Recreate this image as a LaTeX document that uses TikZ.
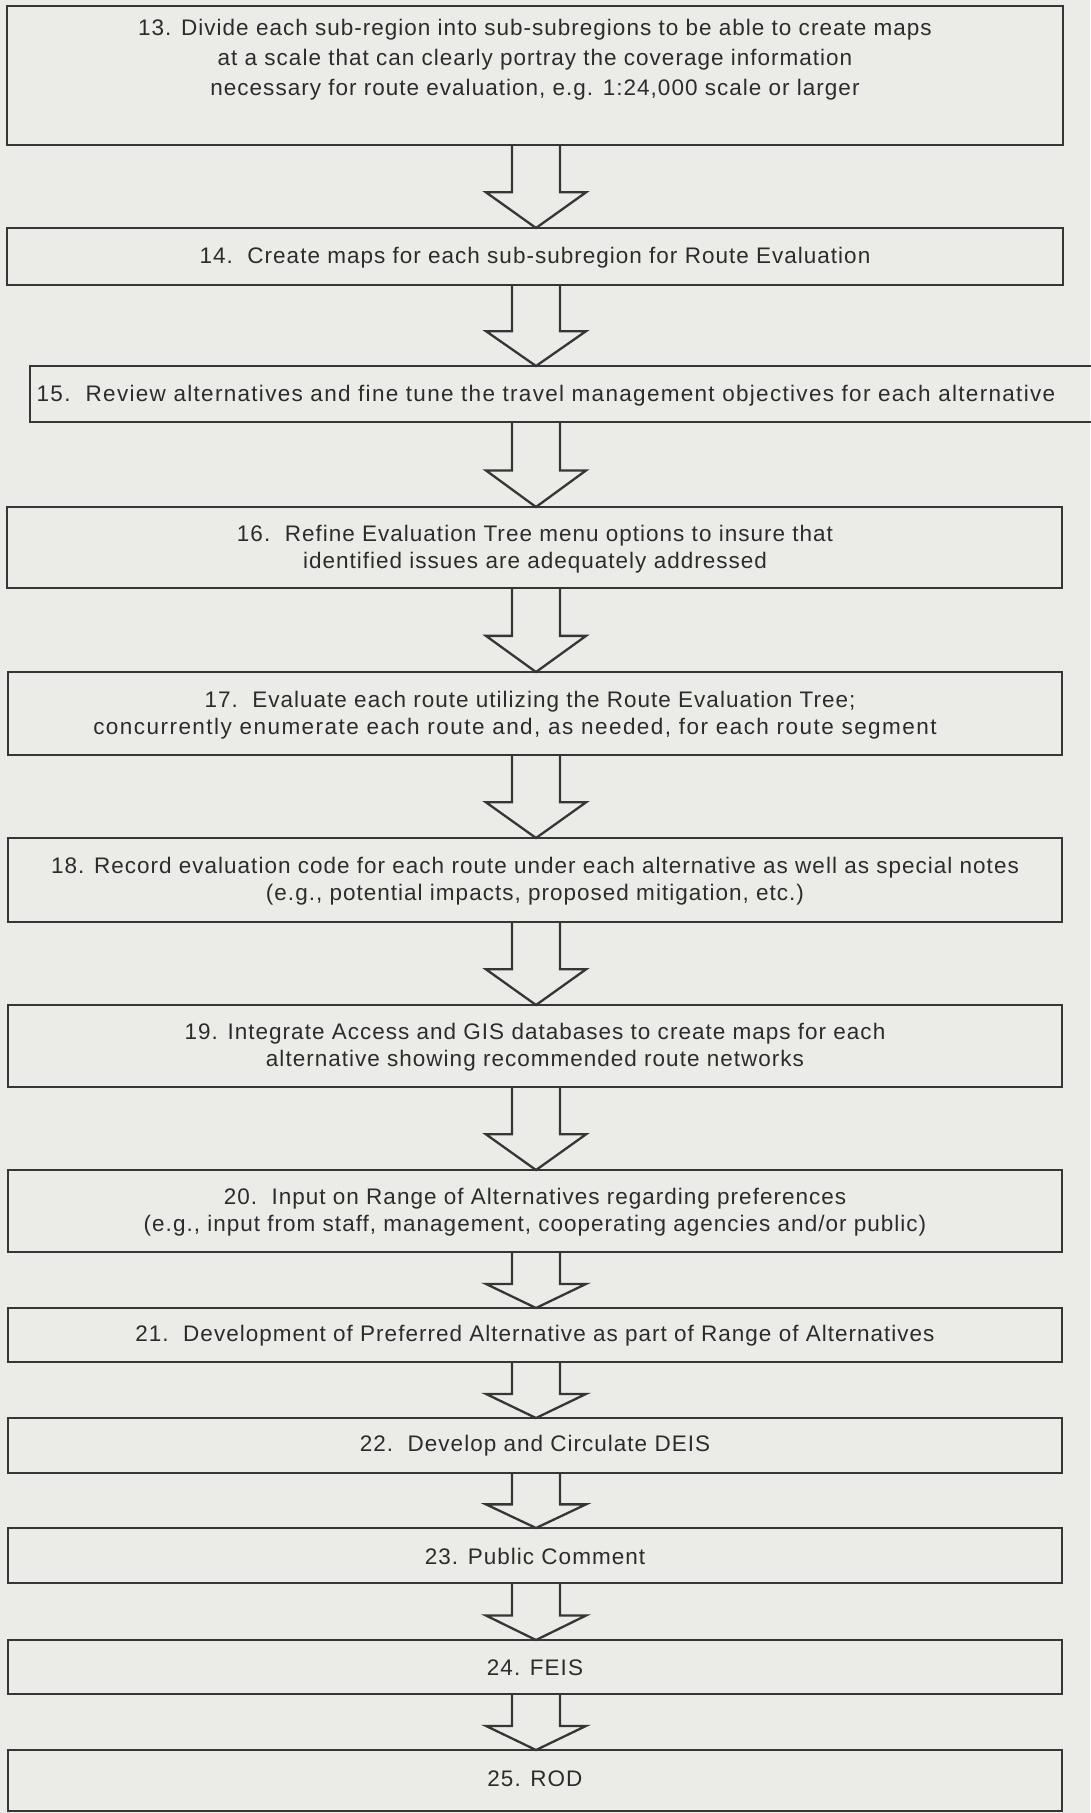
\documentclass[tikz,border=0pt]{standalone}
\usepackage{fontspec}
\setmainfont{Liberation Sans}[LetterSpace=4.5]
\usetikzlibrary{calc}
\definecolor{bg}{HTML}{EBEBE8}
\definecolor{ink}{HTML}{363636}
\definecolor{txt}{HTML}{2C2C2C}
\tikzset{
  box/.style={draw=ink, line width=2.3pt, rectangle, inner sep=0pt, outer sep=0pt},
  lbl/.style={text=txt, align=center, inner sep=0pt, font=\fontsize{22.5}{27}\selectfont},
  arr/.style={draw=ink, line width=2.3pt, line join=miter},
}
\newcommand{\blockarr}[2]{%
  \draw[arr] let \p1=(#1.south), \p2=(#2.north), \p3=($(#1.south)!0.57!(#2.north)$) in
    (512pt,\y1) -- (512pt,\y3) -- (486pt,\y3) -- (536pt,\y2) -- (586pt,\y3) -- (560pt,\y3) -- (560pt,\y1);
}
\begin{document}
\begin{tikzpicture}[x=1pt,y=-1pt]
\fill[bg] (0,0) rectangle (1090,1813);
\useasboundingbox (0,0) rectangle (1090,1813);

% boxes
\node[box, minimum width=1056pt, minimum height=139pt] (b13) at (535,75.5) {};
\node[box, minimum width=1056pt, minimum height=57pt] (b14) at (535,256.5) {};
\node[box, minimum width=1062pt, minimum height=56pt] (b15) at (561,394) {};
\node[box, minimum width=1055pt, minimum height=81pt] (b16) at (534.5,547.5) {};
\node[box, minimum width=1054pt, minimum height=83pt] (b17) at (535,713.5) {};
\node[box, minimum width=1054pt, minimum height=84pt] (b18) at (535,880) {};
\node[box, minimum width=1054pt, minimum height=82pt] (b19) at (535,1046) {};
\node[box, minimum width=1054pt, minimum height=82pt] (b20) at (535,1211) {};
\node[box, minimum width=1054pt, minimum height=54pt] (b21) at (535,1335) {};
\node[box, minimum width=1054pt, minimum height=55pt] (b22) at (535,1445.5) {};
\node[box, minimum width=1054pt, minimum height=55pt] (b23) at (535,1555.5) {};
\node[box, minimum width=1054pt, minimum height=54pt] (b24) at (535,1667) {};
\node[box, minimum width=1054pt, minimum height=61pt] (b25) at (535,1780.5) {};

% texts
\node[lbl, font=\fontsize{22.5}{30}\selectfont] (t13) at (535,60)
  {13. Divide each sub-region into sub-subregions to be able to create maps\\
   at a scale that can clearly portray the coverage information\\
   necessary for route evaluation, e.g. 1:24,000 scale or larger};
\node[lbl] (t14) at (535,258) {14.\ \ Create maps for each sub-subregion for Route Evaluation};
\node[lbl, font=\fontsize{22.5}{27}\selectfont\addfontfeature{LetterSpace=5.8}] (t15) at (546,396) {15.\ \ Review alternatives and fine tune the travel management objectives for each alternative};
\node[lbl] (t16) at (535,549) {16.\ \ Refine Evaluation Tree menu options to insure that\\identified issues are adequately addressed};
\node[lbl] (t17) at (515,715) {\hspace*{30pt}17.\ \ Evaluate each route utilizing the Route Evaluation Tree;\\{\addfontfeature{LetterSpace=6.5}concurrently enumerate each route and, as needed, for each route segment}};
\node[lbl] (t18) at (535,881) {18. Record evaluation code for each route under each alternative as well as special notes\\(e.g., potential impacts, proposed mitigation, etc.)};
\node[lbl] (t19) at (535,1047) {19. Integrate Access and GIS databases to create maps for each\\alternative showing recommended route networks};
\node[lbl] (t20) at (535,1212) {20.\ \ Input on Range of Alternatives regarding preferences\\(e.g., input from staff, management, cooperating agencies and/or public)};
\node[lbl] (t21) at (535,1336) {21.\ \ Development of Preferred Alternative as part of Range of Alternatives};
\node[lbl] (t22) at (535,1446) {22.\ \ Develop and Circulate DEIS};
\node[lbl] (t23) at (535,1556) {23. Public Comment};
\node[lbl] (t24) at (535,1668) {24. FEIS};
\node[lbl] (t25) at (535,1779) {25. ROD};

% arrows
\blockarr{b13}{b14}
\blockarr{b14}{b15}
\blockarr{b15}{b16}
\blockarr{b16}{b17}
\blockarr{b17}{b18}
\blockarr{b18}{b19}
\blockarr{b19}{b20}
\blockarr{b20}{b21}
\blockarr{b21}{b22}
\blockarr{b22}{b23}
\blockarr{b23}{b24}
\blockarr{b24}{b25}
\end{tikzpicture}
\end{document}
